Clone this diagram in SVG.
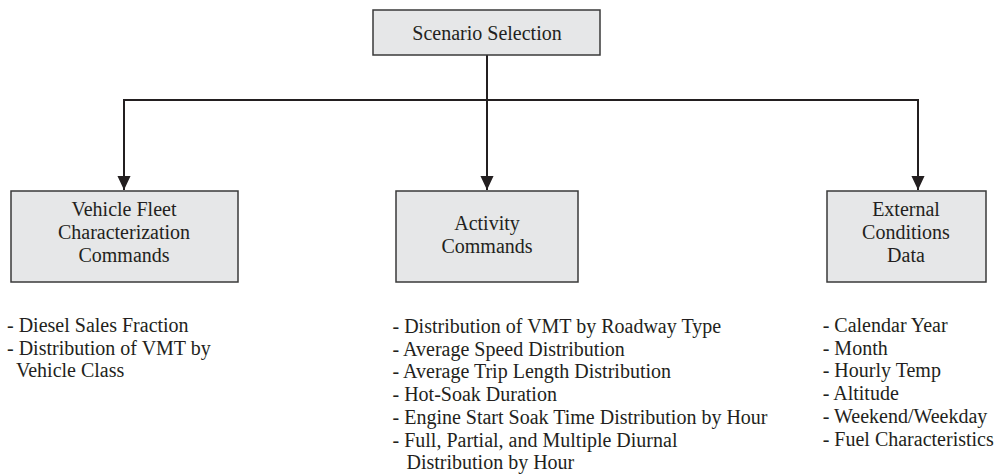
<svg xmlns="http://www.w3.org/2000/svg" width="999" height="474" viewBox="0 0 999 474">
  <style>
    .box { fill: #e6e7e8; stroke: #3a3a3a; stroke-width: 1.5; }
    .t { font-family: 'Liberation Serif', 'Times New Roman', serif; font-size: 20px; fill: #231f20; }
    .c { text-anchor: middle; }
    .wire { fill: none; stroke: #231f20; stroke-width: 2; }
  </style>
  <defs>
    <marker id="arrow" markerUnits="userSpaceOnUse" markerWidth="14" markerHeight="15" viewBox="0 0 15 14" refX="15" refY="7" orient="auto">
      <path d="M0,0 L15,7 L0,14 Z" fill="#231f20"/>
    </marker>
  </defs>

  <rect width="999" height="474" fill="#ffffff"/>

  <g id="connectors">
    <line class="wire" x1="487" y1="55" x2="487" y2="100"/>
    <line class="wire" x1="123" y1="100" x2="919" y2="100"/>
    <line class="wire" x1="124" y1="100" x2="124" y2="190" marker-end="url(#arrow)"/>
    <line class="wire" x1="487" y1="100" x2="487" y2="190" marker-end="url(#arrow)"/>
    <line class="wire" x1="918" y1="100" x2="918" y2="190" marker-end="url(#arrow)"/>
  </g>

  <g id="scenario-selection">
    <rect class="box" x="373" y="10" width="227" height="45"/>
    <text class="t c" x="487" y="40">Scenario Selection</text>
  </g>

  <g id="vehicle-fleet">
    <rect class="box" x="11" y="191" width="227" height="91"/>
    <text class="t c" x="124" y="216">Vehicle Fleet</text>
    <text class="t c" x="124" y="239">Characterization</text>
    <text class="t c" x="124" y="262">Commands</text>
  </g>

  <g id="activity">
    <rect class="box" x="396" y="191" width="182" height="91"/>
    <text class="t c" x="487" y="230">Activity</text>
    <text class="t c" x="487" y="253">Commands</text>
  </g>

  <g id="external-conditions">
    <rect class="box" x="827" y="191" width="159" height="91"/>
    <text class="t c" x="906" y="216">External</text>
    <text class="t c" x="906" y="239">Conditions</text>
    <text class="t c" x="906" y="262">Data</text>
  </g>

  <g id="vehicle-fleet-items" class="t">
    <text x="7" y="332">- Diesel Sales Fraction</text>
    <text x="7" y="355">- Distribution of VMT by</text>
    <text x="16" y="377">Vehicle Class</text>
  </g>

  <g id="activity-items" class="t">
    <text x="392.5" y="333">- Distribution of VMT by Roadway Type</text>
    <text x="392.5" y="355.5">- Average Speed Distribution</text>
    <text x="392.5" y="378.3">- Average Trip Length Distribution</text>
    <text x="392.5" y="401">- Hot-Soak Duration</text>
    <text x="392.5" y="424">- Engine Start Soak Time Distribution by Hour</text>
    <text x="392.5" y="446.7">- Full, Partial, and Multiple Diurnal</text>
    <text x="406.5" y="469">Distribution by Hour</text>
  </g>

  <g id="external-conditions-items" class="t">
    <text x="822.7" y="332">- Calendar Year</text>
    <text x="822.7" y="354.5">- Month</text>
    <text x="822.7" y="377">- Hourly Temp</text>
    <text x="822.7" y="400">- Altitude</text>
    <text x="822.7" y="423">- Weekend/Weekday</text>
    <text x="822.7" y="445.7">- Fuel Characteristics</text>
  </g>
</svg>
